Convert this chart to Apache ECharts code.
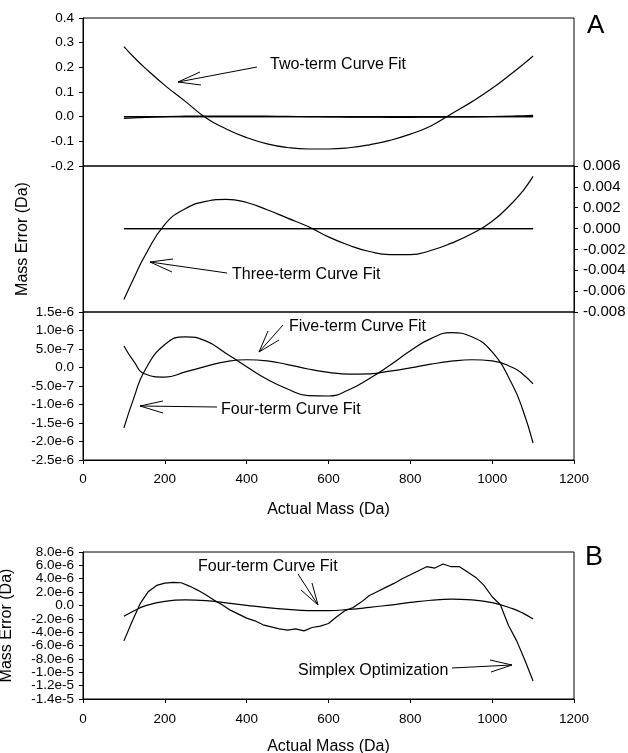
<!DOCTYPE html>
<html>
<head>
<meta charset="utf-8">
<script src="https://cdn.jsdelivr.net/npm/echarts@6/dist/echarts.min.js"></script>
<style>
  html, body { margin: 0; padding: 0; background: #fff; }
  #chart { width: 628px; height: 753px; }
</style>
</head>
<body>
<div id="chart"></div>
<script>
// actual mass (Da) for the fitted curves
var fitMass = [100, 125, 150, 200, 250, 300, 350, 400, 450, 500, 550, 600, 650, 700, 750, 800, 850, 900, 950, 1000, 1050, 1075, 1100];

// mass error (Da) of each fit
var twoTerm = [0.284, 0.240, 0.200, 0.127, 0.062, -0.004, -0.050, -0.085, -0.110, -0.125, -0.131, -0.131, -0.126, -0.114, -0.096, -0.071, -0.038, 0.011, 0.060, 0.115, 0.178, 0.211, 0.246];
var threeTerm = [-0.0068, -0.0047, -0.0027, 0.0004, 0.0019, 0.0026, 0.0028, 0.0025, 0.0018, 0.0010, 0.0002, -0.0008, -0.0016, -0.0022, -0.0025, -0.0025, -0.0021, -0.0014, -0.0005, 0.0007, 0.0025, 0.0036, 0.0050];
var fourTerm = [-1.63e-6, -0.80e-6, -0.10e-6, 0.62e-6, 0.83e-6, 0.72e-6, 0.38e-6, 0.02e-6, -0.32e-6, -0.58e-6, -0.76e-6, -0.77e-6, -0.60e-6, -0.30e-6, 0.06e-6, 0.45e-6, 0.78e-6, 0.94e-6, 0.83e-6, 0.42e-6, -0.48e-6, -1.15e-6, -2.04e-6];
var fiveTerm = [0.58e-6, 0.15e-6, -0.17e-6, -0.26e-6, -0.12e-6, 0.03e-6, 0.16e-6, 0.21e-6, 0.18e-6, 0.08e-6, -0.04e-6, -0.13e-6, -0.18e-6, -0.17e-6, -0.10e-6, -0.01e-6, 0.09e-6, 0.17e-6, 0.21e-6, 0.18e-6, 0.00e-6, -0.18e-6, -0.44e-6];

// simplex optimization (panel B)
var simplexMass = [100, 120, 140, 160, 180, 200, 220, 240, 260, 280, 300, 320, 340, 360, 380, 400, 420, 440, 460, 480, 500, 520, 540, 560, 580, 600, 620, 640, 660, 680, 700, 720, 740, 760, 780, 800, 820, 840, 860, 880, 900, 920, 940, 960, 980, 1000, 1020, 1040, 1060, 1080, 1100];
var simplex = [-5.3e-6, -2.4e-6, 0.3e-6, 2.1e-6, 3.0e-6, 3.35e-6, 3.45e-6, 3.4e-6, 2.9e-6, 2.3e-6, 1.6e-6, 0.8e-6, 0.1e-6, -0.7e-6, -1.3e-6, -1.9e-6, -2.3e-6, -2.9e-6, -3.2e-6, -3.5e-6, -3.7e-6, -3.5e-6, -3.8e-6, -3.3e-6, -3.1e-6, -2.7e-6, -1.7e-6, -0.8e-6, -0.3e-6, 0.5e-6, 1.5e-6, 2.1e-6, 2.7e-6, 3.3e-6, 4.0e-6, 4.6e-6, 5.2e-6, 5.8e-6, 5.6e-6, 6.2e-6, 5.8e-6, 5.8e-6, 5.0e-6, 4.2e-6, 3.0e-6, 1.3e-6, 0.1e-6, -3.0e-6, -5.3e-6, -8.2e-6, -11.3e-6];

// panel B tick labels, split in two alternating sets so none get dropped
var panelBTicksA = [8e-6, 4e-6, 0, -4e-6, -8e-6, -1.2e-5];
var panelBTicksB = [6e-6, 2e-6, -2e-6, -6e-6, -1.0e-5, -1.4e-5];

var massTicks = { min: 0, max: 1200, interval: 200 };

var FONT = "'Liberation Sans', Arial, sans-serif";

function pairs(xs, ys) {
  return xs.map(function (x, i) { return [x, ys[i]]; });
}

function expLabel(v) {
  return Math.abs(v) < 1e-12 ? '0.0' : v.toExponential(1);
}

function curve(name, xi, yi, xs, ys, w, smooth) {
  return {
    name: name, type: 'line', xAxisIndex: xi, yAxisIndex: yi,
    data: pairs(xs, ys), showSymbol: false, smooth: smooth,
    lineStyle: { color: '#000', width: w }, itemStyle: { color: '#000' },
    silent: true
  };
}

function gridBox(top, height) {
  return { left: 83, top: top, width: 491, height: height, show: true,
    borderColor: '#000', borderWidth: 1, outerBoundsMode: 'none' };
}

function massAxis(gi, visible) {
  var ax = {
    type: 'value', gridIndex: gi, min: massTicks.min, max: massTicks.max, interval: massTicks.interval,
    splitLine: { show: false }
  };
  if (!visible) { ax.show = false; return ax; }
  ax.axisLine = { show: true, onZero: false, lineStyle: { color: '#000', width: 1 } };
  ax.axisTick = { show: true, length: 4, lineStyle: { color: '#000' } };
  ax.axisLabel = { color: '#000', fontSize: 13.5, fontFamily: FONT, margin: 12,
    formatter: function (v) { return String(v); } };
  ax.name = 'Actual Mass (Da)';
  ax.nameLocation = 'middle';
  ax.nameTextStyle = { color: '#000', fontSize: 16, fontFamily: FONT };
  return ax;
}

function errAxis(gi, min, max, interval, fmt, pos, size) {
  return {
    type: 'value', gridIndex: gi, min: min, max: max, interval: interval, position: pos || 'left',
    splitLine: { show: false },
    axisLine: { show: true, onZero: false, lineStyle: { color: '#000', width: 1 } },
    axisTick: { show: true, length: 4, lineStyle: { color: '#000' } },
    axisLabel: { color: '#000', fontSize: size || 13.5, fontFamily: FONT, margin: 9, formatter: fmt,
      showMinLabel: true, showMaxLabel: true }
  };
}

var xAxes = [massAxis(0, false), massAxis(1, false), massAxis(2, true), massAxis(3, true)];
xAxes[2].nameGap = 42;
xAxes[3].nameGap = 40;
xAxes[3].axisLabel.margin = 13;

var yAxes = [
  errAxis(0, -0.2, 0.4, 0.1, function (v) { return v.toFixed(1); }),
  // left side of the middle panel only carries the shared axis title
  {
    type: 'value', gridIndex: 1, min: -0.008, max: 0.006, position: 'left',
    splitLine: { show: false }, axisTick: { show: false }, axisLabel: { show: false },
    axisLine: { show: true, onZero: false, lineStyle: { color: '#000' } },
    name: 'Mass Error (Da)', nameLocation: 'middle', nameGap: 52,
    nameTextStyle: { color: '#000', fontSize: 16, fontFamily: FONT }
  },
  errAxis(1, -0.008, 0.006, 0.002, function (v) { return v.toFixed(3); }, 'right', 15),
  errAxis(2, -2.5e-6, 1.5e-6, 5e-7, expLabel),
  errAxis(3, -1.4e-5, 8e-6, 2e-6, expLabel),
  errAxis(3, -1.4e-5, 8e-6, 2e-6, expLabel)
];
yAxes[4].axisLabel.customValues = panelBTicksA;
yAxes[4].name = 'Mass Error (Da)';
yAxes[4].nameLocation = 'middle';
yAxes[4].nameGap = 68;
yAxes[4].nameTextStyle = { color: '#000', fontSize: 16, fontFamily: FONT };
yAxes[5].axisLabel.customValues = panelBTicksB;
yAxes[5].axisLine.show = false;
yAxes[5].axisTick.show = false;

var series = [
  // panel A, top
  curve('Two-term', 0, 0, fitMass, twoTerm, 1.2, true),
  curve('Three-term', 0, 0, fitMass, threeTerm, 1.2, true),
  curve('Four-term', 0, 0, fitMass, fourTerm, 1.2, true),
  curve('Five-term', 0, 0, fitMass, fiveTerm, 1.2, true),
  // panel A, middle
  curve('Three-term', 1, 2, fitMass, threeTerm, 1.2, true),
  curve('Four-term', 1, 2, fitMass, fourTerm, 1.2, true),
  curve('Five-term', 1, 2, fitMass, fiveTerm, 1.2, true),
  // panel A, bottom
  curve('Four-term', 2, 3, fitMass, fourTerm, 1.2, true),
  curve('Five-term', 2, 3, fitMass, fiveTerm, 1.2, true),
  // panel B
  curve('Four-term', 3, 4, fitMass, fourTerm, 1.2, true),
  curve('Simplex', 3, 4, simplexMass, simplex, 1.2, false)
];

// callouts: label text, arrow shaft and open arrow head (pixel layout)
var notes = [
  { text: 'Two-term Curve Fit', x: 270, y: 65, from: [257, 67], tip: [178, 82], h1: [200, 72], h2: [201, 85] },
  { text: 'Three-term Curve Fit', x: 232, y: 275, from: [227, 273], tip: [150, 262], h1: [173, 259], h2: [172, 272] },
  { text: 'Five-term Curve Fit', x: 289, y: 327, from: [283, 325], tip: [259, 352], h1: [268, 331], h2: [279, 340] },
  { text: 'Four-term Curve Fit', x: 221, y: 410, from: [217, 407], tip: [140, 406], h1: [163, 401], h2: [163, 413] },
  { text: 'Four-term Curve Fit', x: 198, y: 567, from: [298, 574], tip: [318, 605], h1: [312, 583], h2: [301, 590] },
  { text: 'Simplex Optimization', x: 298, y: 671, from: [452, 668], tip: [512, 665], h1: [490, 660], h2: [491, 672] }
];

var graphics = [];
notes.forEach(function (n) {
  graphics.push({ type: 'text', x: n.x, y: n.y, silent: true,
    style: { text: n.text, fill: '#000', fontSize: 16, fontFamily: FONT, verticalAlign: 'middle' } });
  graphics.push({ type: 'polyline', silent: true, shape: { points: [n.from, n.tip] },
    style: { stroke: '#000', lineWidth: 1, fill: null } });
  graphics.push({ type: 'polyline', silent: true, shape: { points: [n.h1, n.tip, n.h2] },
    style: { stroke: '#000', lineWidth: 1, fill: null } });
});
graphics.push({ type: 'text', x: 587, y: 26, silent: true,
  style: { text: 'A', fill: '#000', fontSize: 26, fontFamily: FONT, verticalAlign: 'middle' } });
graphics.push({ type: 'text', x: 585, y: 558, silent: true,
  style: { text: 'B', fill: '#000', fontSize: 27, fontFamily: FONT, verticalAlign: 'middle' } });

var chart = echarts.init(document.getElementById('chart'), null, { renderer: 'canvas' });
chart.setOption({
  animation: false,
  backgroundColor: '#fff',
  grid: [gridBox(18, 148), gridBox(166, 146), gridBox(312, 148), gridBox(552, 147)],
  xAxis: xAxes,
  yAxis: yAxes,
  series: series,
  graphic: graphics
});
</script>
</body>
</html>
